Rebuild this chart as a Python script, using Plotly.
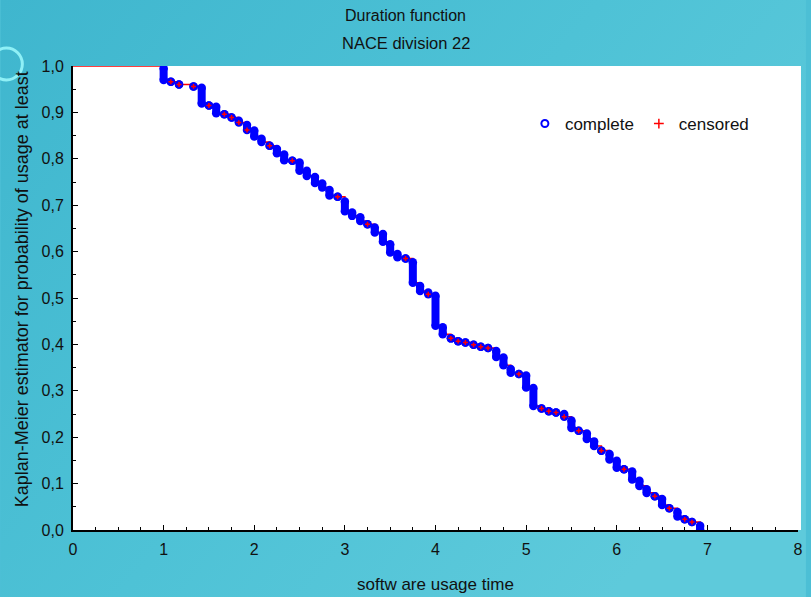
import base64
import plotly.graph_objects as go

# ---- data (time in years, KM estimate range per time) ----
times = [1.00, 1.08, 1.17, 1.33, 1.42, 1.50, 1.58, 1.67, 1.75, 1.83, 1.92, 2.00,
         2.08, 2.17, 2.25, 2.33, 2.42, 2.50, 2.58, 2.67, 2.75, 2.83, 2.92, 3.00,
         3.08, 3.17, 3.25, 3.33, 3.42, 3.50, 3.58, 3.67, 3.75, 3.83, 3.92, 4.00,
         4.08, 4.17, 4.25, 4.33, 4.42, 4.50, 4.58, 4.67, 4.75, 4.83, 4.92, 5.00,
         5.08, 5.17, 5.25, 5.33, 5.42, 5.50, 5.58, 5.67, 5.75, 5.83, 5.92, 6.00,
         6.08, 6.17, 6.25, 6.33, 6.42, 6.50, 6.58, 6.67, 6.75, 6.83, 6.92]
s_top = [0.995, 0.966, 0.960, 0.956, 0.953, 0.915, 0.912, 0.896, 0.889, 0.882, 0.873, 0.861,
         0.843, 0.828, 0.821, 0.809, 0.796, 0.792, 0.774, 0.761, 0.747, 0.733, 0.718, 0.708,
         0.684, 0.674, 0.659, 0.652, 0.638, 0.616, 0.595, 0.585, 0.577, 0.526, 0.512, 0.505,
         0.437, 0.413, 0.407, 0.404, 0.399, 0.395, 0.392, 0.386, 0.372, 0.347, 0.336, 0.333,
         0.306, 0.262, 0.256, 0.253, 0.250, 0.236, 0.214, 0.208, 0.191, 0.171, 0.164, 0.149,
         0.131, 0.126, 0.106, 0.088, 0.073, 0.067, 0.047, 0.039, 0.023, 0.017, 0.009]
s_bottom = [0.970, 0.966, 0.960, 0.956, 0.919, 0.915, 0.898, 0.896, 0.889, 0.878, 0.862, 0.848,
            0.836, 0.828, 0.812, 0.797, 0.796, 0.774, 0.763, 0.748, 0.738, 0.721, 0.718, 0.687,
            0.677, 0.666, 0.659, 0.641, 0.621, 0.598, 0.588, 0.585, 0.533, 0.515, 0.508, 0.440,
            0.422, 0.413, 0.407, 0.404, 0.399, 0.395, 0.392, 0.373, 0.355, 0.339, 0.336, 0.307,
            0.267, 0.262, 0.256, 0.253, 0.244, 0.220, 0.214, 0.196, 0.181, 0.171, 0.152, 0.134,
            0.131, 0.109, 0.095, 0.080, 0.073, 0.054, 0.047, 0.029, 0.023, 0.017, 0.000]
censored = [0, 1, 1, 1, 0, 1, 0, 1, 1, 1, 1, 0,
            0, 1, 0, 0, 1, 0, 0, 0, 0, 0, 1, 0,
            0, 0, 1, 0, 0, 0, 0, 1, 0, 0, 1, 0,
            0, 1, 1, 1, 1, 1, 1, 0, 0, 0, 1, 0,
            0, 1, 1, 1, 1, 0, 1, 0, 0, 1, 0, 0,
            1, 0, 0, 0, 1, 0, 1, 0, 1, 1, 0]

x_ticks = [0, 1, 2, 3, 4, 5, 6, 7, 8]
y_ticks = [0.0, 0.1, 0.2, 0.3, 0.4, 0.5, 0.6, 0.7, 0.8, 0.9, 1.0]

BLUE = "#0000ff"
RED = "#ff0000"

fig = go.Figure()

# red step line (KM curve)
step_x = [0.0] + times
step_y = [1.0] + s_bottom
fig.add_trace(go.Scatter(x=step_x, y=step_y, mode="lines", line=dict(color=RED, width=1.6, shape="hv"),
                         showlegend=False, hoverinfo="skip", cliponaxis=False))

# vertical stacks of tied complete observations
bx, by = [], []
for t, a, b in zip(times, s_top, s_bottom):
    bx += [t, t, None]
    by += [a, b, None]
fig.add_trace(go.Scatter(x=bx, y=by, mode="lines", line=dict(color=BLUE, width=8),
                         showlegend=False, hoverinfo="skip"))
fig.add_trace(go.Scatter(x=times + times, y=s_top + s_bottom, mode="markers",
                         marker=dict(symbol="circle", size=8.5, color=BLUE, line=dict(width=0)),
                         showlegend=False, hoverinfo="skip"))

# censored observations
cx = [t for t, c in zip(times, censored) if c]
cy = [s for s, c in zip(s_bottom, censored) if c]
fig.add_trace(go.Scatter(x=cx, y=cy, mode="markers",
                         marker=dict(symbol="cross-thin", size=3.5, line=dict(color=RED, width=1.5)),
                         showlegend=False, hoverinfo="skip"))

# legend entries
fig.add_trace(go.Scatter(x=[None], y=[None], mode="markers", name="complete",
                         marker=dict(symbol="circle-open", size=7, color=BLUE, line=dict(width=2, color=BLUE))))
fig.add_trace(go.Scatter(x=[None], y=[None], mode="markers", name="censored",
                         marker=dict(symbol="cross-thin", size=7, line=dict(color=RED, width=1.5))))

L, R, T, B = 73, 8, 66, 67
W, H = 811, 597
pw, ph = W - L - R, H - T - B

# background gradient with white plotting area
svg = f"""<svg xmlns='http://www.w3.org/2000/svg' width='{W}' height='{H}' viewBox='0 0 {W} {H}' preserveAspectRatio='none'>
<defs><linearGradient id='g' x1='0' y1='0' x2='1' y2='0.6'>
<stop offset='0' stop-color='#3fb6ce'/><stop offset='0.55' stop-color='#4ec2d6'/>
<stop offset='1' stop-color='#5ecadb'/></linearGradient></defs>
<rect width='{W}' height='{H}' fill='url(#g)'/>
<rect x='{L}' y='{T}' width='{W - L - 5}' height='{ph}' fill='white'/></svg>"""
src = "data:image/svg+xml;base64," + base64.b64encode(svg.encode()).decode()


def px(x):
    return (x - L) / pw


def py(y):
    return (H - B - y) / ph


fig.add_layout_image(dict(source=src, xref="paper", yref="paper", x=px(0), y=py(0),
                          sizex=W / pw, sizey=H / ph, xanchor="left", yanchor="top",
                          sizing="stretch", layer="below"))

fig.add_shape(type="circle", xref="paper", yref="paper", x0=px(-10), x1=px(22), y0=py(80), y1=py(48),
              line=dict(color="#8ff0f6", width=3))

sans = "Liberation Sans, Arial, sans-serif"
fig.add_annotation(text="Duration function", xref="paper", yref="paper", x=px(408), y=py(16),
                   xanchor="center", yanchor="middle",
                   showarrow=False, font=dict(family=sans, size=16, color="#111"))
fig.add_annotation(text="NACE division 22", xref="paper", yref="paper", x=px(408), y=py(43),
                   xanchor="center", yanchor="middle",
                   showarrow=False, font=dict(family=sans, size=16.5, color="#111"))
fig.add_annotation(text="Kaplan-Meier estimator for probability of usage at least", xref="paper", yref="paper",
                   x=px(22), y=py(289), textangle=-90, showarrow=False, xanchor="center", yanchor="middle",
                   font=dict(family=sans, size=18, color="#111"))
fig.add_annotation(text="softw are usage time", xref="paper", yref="paper", x=px(438), y=py(584),
                   xanchor="center", yanchor="middle",
                   showarrow=False, font=dict(family=sans, size=17, color="#111"))

fig.update_layout(
    width=W, height=H,
    margin=dict(l=L, r=R, t=T, b=B),
    paper_bgcolor="#4cbfd5",
    plot_bgcolor="white",
    separators=",.",
    showlegend=True,
    legend=dict(orientation="h", x=px(528), y=py(124), xanchor="left", yanchor="middle",
                bgcolor="rgba(0,0,0,0)", font=dict(family=sans, size=17, color="#111"),
                itemwidth=30),
)
fig.update_xaxes(range=[0, 8], tickvals=x_ticks, ticktext=[str(v) for v in x_ticks],
                 showgrid=False, zeroline=False, showline=True, linecolor="black", linewidth=2,
                 ticks="inside", ticklen=5, tickcolor="black", tickwidth=1, ticklabelstandoff=4,
                 minor=dict(dtick=0.25, ticks="inside", ticklen=3, tickcolor="black", tickwidth=1),
                 tickfont=dict(family=sans, size=16, color="#111"))
fig.update_yaxes(range=[0, 1], tickvals=y_ticks, tickformat=".1f",
                 showgrid=False, zeroline=False, showline=True, linecolor="black", linewidth=2,
                 ticks="inside", ticklen=5, tickcolor="black", tickwidth=1, ticklabelstandoff=4,
                 minor=dict(dtick=0.05, ticks="inside", ticklen=3, tickcolor="black", tickwidth=1),
                 tickfont=dict(family=sans, size=16, color="#111"))

fig.write_html("out.html", config={"displayModeBar": False},
               post_script="document.body.style.margin='0';")
